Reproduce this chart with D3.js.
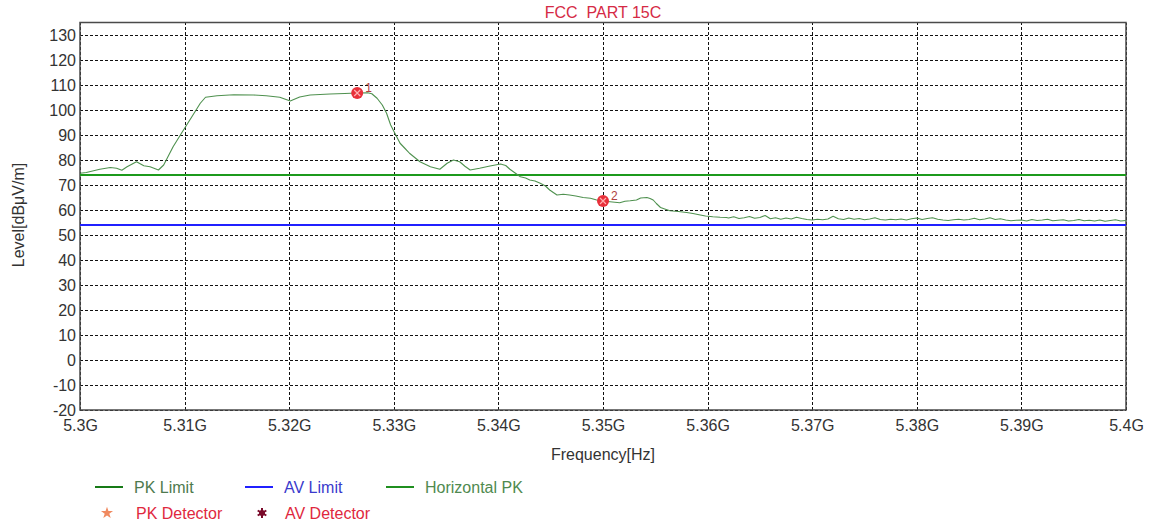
<!DOCTYPE html>
<html>
<head>
<meta charset="utf-8">
<script src="https://cdn.jsdelivr.net/npm/d3@7"></script>
<style>
  html, body { margin: 0; padding: 0; background: #ffffff; }
  svg { display: block; font-family: "Liberation Sans", Arial, sans-serif; }
</style>
</head>
<body>
<svg id="chart" width="1154" height="526"></svg>
<script>
// ---------------- data ----------------
const title = "FCC  PART 15C";
const xLabel = "Frequency[Hz]";
const yLabel = "Level[dBμV/m]";

const xTickValues = [5300, 5310, 5320, 5330, 5340, 5350, 5360, 5370, 5380, 5390, 5400]; // MHz
const xTickLabels = ["5.3G", "5.31G", "5.32G", "5.33G", "5.34G", "5.35G", "5.36G", "5.37G", "5.38G", "5.39G", "5.4G"];
const yTickValues = [-20, -10, 0, 10, 20, 30, 40, 50, 60, 70, 80, 90, 100, 110, 120, 130];

const pkLimit = 74;   // dBμV/m
const avLimit = 54;   // dBμV/m

// Horizontal PK trace (frequency in MHz, level in dBμV/m)
const traceFreq = [
  5300.0, 5300.6, 5301.9, 5302.9, 5303.5, 5304.0, 5304.5, 5305.4, 5306.1, 5306.7,
  5307.5, 5308.0, 5308.9, 5309.7, 5310.8, 5311.5, 5312.0, 5313.1, 5314.7, 5316.6,
  5317.8, 5319.1, 5320.1, 5321.0, 5322.0, 5323.9, 5325.3, 5326.5, 5327.5, 5327.9,
  5328.4, 5328.9, 5329.3, 5329.7, 5330.1, 5330.6, 5331.1, 5331.5, 5332.5, 5333.5,
  5334.4, 5335.1, 5335.7, 5336.3, 5336.8, 5337.3, 5338.2, 5339.2, 5340.2, 5340.7,
  5341.1, 5341.6, 5342.1, 5342.6, 5343.0, 5343.5, 5344.0, 5344.5, 5344.9, 5345.6,
  5346.2, 5346.8, 5347.4, 5348.1, 5348.8, 5349.4, 5350.0, 5350.9, 5351.6, 5352.1,
  5352.6, 5353.2, 5353.6, 5354.2, 5354.5, 5354.8, 5355.1, 5355.5, 5355.9, 5356.4,
  5357.2, 5358.0, 5358.6, 5359.3, 5359.8, 5360.5, 5361.2, 5361.8,
  5362.0, 5362.5, 5363.0, 5363.5, 5364.0, 5364.5, 5365.0, 5365.5, 5366.0, 5366.5,
  5367.0, 5367.5, 5368.0, 5368.5, 5369.0, 5369.5, 5370.0, 5370.5, 5371.0, 5371.5,
  5372.0, 5372.5, 5373.0, 5373.5, 5374.0, 5374.5, 5375.0, 5375.5, 5376.0, 5376.5,
  5377.0, 5377.5, 5378.0, 5378.5, 5379.0, 5379.5, 5380.0, 5380.5, 5381.0, 5381.5,
  5382.0, 5382.5, 5383.0, 5383.5, 5384.0, 5384.5, 5385.0, 5385.5, 5386.0, 5386.5,
  5387.0, 5387.5, 5388.0, 5388.5, 5389.0, 5389.5, 5390.0, 5390.5, 5391.0, 5391.5,
  5392.0, 5392.5, 5393.0, 5393.5, 5394.0, 5394.5, 5395.0, 5395.5, 5396.0, 5396.5,
  5397.0, 5397.5, 5398.0, 5398.5, 5399.0, 5399.5, 5400.0
];
const traceLevel = [
  74.7, 75.0, 76.3, 77.0, 76.7, 75.9, 77.3, 79.3, 77.7, 77.3,
  76.0, 78.0, 85.3, 90.7, 98.0, 102.7, 105.1, 105.7, 106.1, 106.0,
  105.7, 105.1, 103.6, 105.2, 106.0, 106.4, 106.6, 106.8, 106.9, 106.5,
  104.7, 102.0, 98.8, 94.0, 90.7, 86.7, 84.5, 82.7, 79.3, 77.3,
  76.3, 78.7, 80.0, 79.3, 77.5, 76.0, 76.7, 77.6, 78.4, 77.8,
  76.3, 74.8, 73.3, 72.8, 72.0, 71.6, 70.7, 69.6, 68.0, 66.0,
  66.3, 66.0, 65.6, 65.0, 64.7, 64.0, 63.6, 63.2, 62.9, 63.5,
  63.7, 64.0, 64.8, 65.0, 64.6, 64.0, 62.6, 61.0, 60.4, 59.7,
  59.4, 59.0, 58.6, 58.0, 57.6, 57.3, 57.1, 57.0,
  56.8, 57.3, 56.6, 56.9, 57.4, 56.7, 57.0, 57.8, 56.5, 56.9,
  56.3, 56.8, 56.4, 57.1, 56.6, 56.2, 56.0, 56.3, 56.1, 56.4,
  57.5, 56.5, 56.2, 56.8, 56.3, 56.6, 56.1, 56.4, 56.9, 56.2,
  56.0, 56.3, 56.1, 56.4, 56.0, 56.5, 56.8, 56.2, 56.6, 56.9,
  56.3, 56.0, 55.8, 56.1, 56.3, 56.0, 56.2, 56.7, 56.1, 56.4,
  56.9, 56.2, 56.5, 56.0, 55.7, 55.9, 56.0, 55.6, 56.2, 55.8,
  56.0, 56.3, 55.7, 55.9, 56.1, 55.6, 55.8, 56.2, 55.7, 55.9,
  55.6, 56.0, 55.5, 55.8, 56.1, 55.6, 55.8
];

// markers
const markerFreq = [5326.5, 5350.0];
const markerLevel = [106.8, 63.6];
const markerLabels = ["1", "2"];

// legend
const legendLineNames = ["PK Limit", "AV Limit", "Horizontal PK"];
const legendDetectorNames = ["PK Detector", "AV Detector"];

// ---------------- layout / style ----------------
const svg = d3.select("#chart");
const plot = { left: 80, right: 1126, top: 22.5, bottom: 410 };
const FS = 16;

const x = d3.scaleLinear().domain([5300, 5400]).range([plot.left, plot.right]);
const y = d3.scaleLinear().domain([-20, 135]).range([plot.bottom, plot.top]);

const colors = {
  pk: "#1c9a1c",
  av: "#2020ff",
  trace: "#4f914f",
  grid: "#111111",
  border: "#4a4a4a",
  tick: "#333333",
  title: "#d52a45",
  marker: "#e8303a"
};

// title
svg.append("text")
  .attr("x", 603).attr("y", 18)
  .attr("text-anchor", "middle")
  .attr("font-size", FS)
  .attr("fill", colors.title)
  .style("white-space", "pre")
  .text(title);

// grid + axes
const yAxis = d3.axisLeft(y)
  .tickValues(yTickValues)
  .tickSize(-(plot.right - plot.left))
  .tickPadding(4)
  .tickFormat(d => String(d));
const gy = svg.append("g").attr("transform", `translate(${plot.left},0)`).call(yAxis);

const xAxis = d3.axisBottom(x)
  .tickValues(xTickValues)
  .tickSize(-(plot.bottom - plot.top))
  .tickPadding(10)
  .tickFormat((d, i) => xTickLabels[i]);
const gx = svg.append("g").attr("transform", `translate(0,${plot.bottom})`).call(xAxis);

[gx, gy].forEach(g => {
  g.select(".domain").remove();
  g.selectAll(".tick line")
    .attr("stroke", colors.grid)
    .attr("stroke-width", 1)
    .attr("stroke-dasharray", "3,2")
    .attr("shape-rendering", "crispEdges");
  g.selectAll(".tick text")
    .attr("fill", colors.tick)
    .attr("font-size", FS)
    .attr("font-family", "'Liberation Sans', Arial, sans-serif");
});

// plot border
svg.append("rect")
  .attr("x", plot.left).attr("y", plot.top)
  .attr("width", plot.right - plot.left)
  .attr("height", plot.bottom - plot.top)
  .attr("fill", "none")
  .attr("stroke", colors.border)
  .attr("stroke-width", 1.5);

// axis labels
svg.append("text")
  .attr("x", 603).attr("y", 460)
  .attr("text-anchor", "middle")
  .attr("font-size", FS)
  .attr("fill", colors.tick)
  .text(xLabel);

svg.append("text")
  .attr("transform", "translate(24,215) rotate(-90)")
  .attr("text-anchor", "middle")
  .attr("font-size", FS)
  .attr("fill", colors.tick)
  .text(yLabel);

// limit lines
svg.append("line")
  .attr("x1", x(5300)).attr("x2", x(5400))
  .attr("y1", y(pkLimit)).attr("y2", y(pkLimit))
  .attr("stroke", colors.pk).attr("stroke-width", 2);
svg.append("line")
  .attr("x1", x(5300)).attr("x2", x(5400))
  .attr("y1", y(avLimit)).attr("y2", y(avLimit))
  .attr("stroke", colors.av).attr("stroke-width", 2);

// trace
const traceData = traceFreq.map((f, i) => ({ f, v: traceLevel[i] }));
const line = d3.line().x(d => x(d.f)).y(d => y(d.v));
svg.append("path")
  .datum(traceData)
  .attr("d", line)
  .attr("fill", "none")
  .attr("stroke", colors.trace)
  .attr("stroke-width", 1.1)
  .attr("stroke-linejoin", "round");

// markers
const markers = markerFreq.map((f, i) => ({ f, v: markerLevel[i], label: markerLabels[i] }));
const mg = svg.selectAll("g.marker").data(markers).enter().append("g")
  .attr("class", "marker")
  .attr("transform", d => `translate(${x(d.f)},${y(d.v)})`);
mg.append("circle").attr("r", 6).attr("fill", colors.marker);
mg.append("path")
  .attr("d", "M-3,-3L3,3M-3,3L3,-3")
  .attr("stroke", "#ffb0b0").attr("stroke-width", 1.2);
mg.append("text")
  .attr("x", 8).attr("y", -1)
  .attr("font-size", 12)
  .attr("fill", "#b04040")
  .text(d => d.label);

// legend row 1 (lines)
const legendLineColors = ["#177a17", "#2020ff", "#1f8f1f"];
const legendTextColors = ["#4e7a4e", "#3a3acc", "#4f8a4f"];
const legendLineX = [95, 245, 386];
const lg1 = svg.selectAll("g.leg1").data(legendLineNames).enter().append("g")
  .attr("class", "leg1")
  .attr("transform", (d, i) => `translate(${legendLineX[i]},487)`);
lg1.append("line")
  .attr("x1", 0).attr("x2", 28).attr("y1", 0).attr("y2", 0)
  .attr("stroke", (d, i) => legendLineColors[i]).attr("stroke-width", 2);
lg1.append("text")
  .attr("x", 39).attr("y", 6)
  .attr("font-size", FS)
  .attr("fill", (d, i) => legendTextColors[i])
  .text(d => d);

// legend row 2 (detectors)
const legendDetX = [107, 262];
const lg2 = svg.selectAll("g.leg2").data(legendDetectorNames).enter().append("g")
  .attr("class", "leg2")
  .attr("transform", (d, i) => `translate(${legendDetX[i]},513)`);
lg2.each(function(d, i) {
  const g = d3.select(this);
  if (i === 0) {
    g.append("path")
      .attr("d", d3.symbol().type(d3.symbolStar).size(45)())
      .attr("fill", "#f08a60");
  } else {
    g.append("path")
      .attr("d", d3.symbol().type(d3.symbolAsterisk).size(70)())
      .attr("stroke", "#7a0a2a").attr("stroke-width", 2).attr("fill", "none");
    g.append("circle").attr("r", 3).attr("fill", "#7a0a2a");
  }
});
lg2.append("text")
  .attr("x", (d, i) => i === 0 ? 29 : 23).attr("y", 6)
  .attr("font-size", FS)
  .attr("fill", "#e0283e")
  .text(d => d);
</script>
</body>
</html>
